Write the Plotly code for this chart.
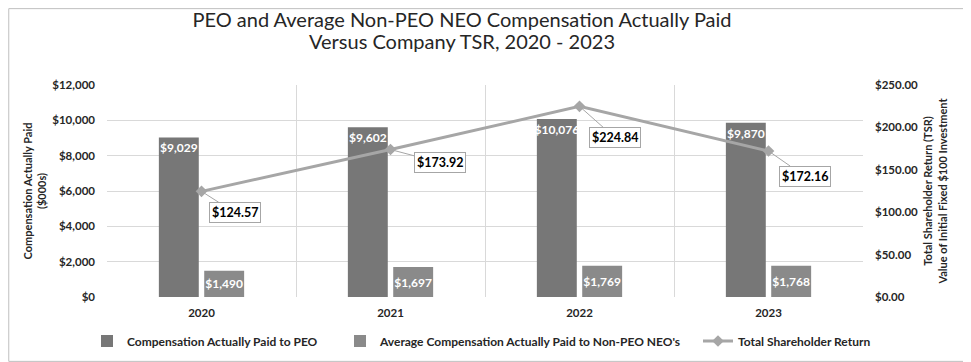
import plotly.graph_objects as go

years = ["2020", "2021", "2022", "2023"]
peo_cap = [9029, 9602, 10076, 9870]
neo_cap = [1490, 1697, 1769, 1768]
tsr = [124.57, 173.92, 224.84, 172.16]
tsr_label_offsets = [(33, 21), (49, 13), (35, 31), (36, 25)]

title_line1 = "PEO and Average Non-PEO NEO Compensation Actually Paid"
title_line2 = "Versus Company TSR, 2020 - 2023"

FONT = "Lato"
TXT = "#262626"
# The page has an 8px body margin, so the figure is sized/offset accordingly.
OFF = 8
FIG_W, FIG_H = 971 - OFF, 362 - OFF
ML, MT, MR, MB = 107 - OFF, 85 - OFF, 108, 65
PLOT_W = FIG_W - ML - MR
PLOT_H = FIG_H - MT - MB


def px_x(page_px):
    return (page_px - OFF - ML) / PLOT_W


def px_y(page_py):
    return 1 - (page_py - OFF - MT) / PLOT_H


fig = go.Figure()
fig.add_trace(go.Bar(
    x=years, y=peo_cap, name="Compensation Actually Paid to PEO",
    marker=dict(color="#777777", line=dict(width=0)),
    text=[f"${v:,}" for v in peo_cap], textposition="inside",
    insidetextanchor="end", textangle=0, constraintext="none",
    textfont=dict(color="white", size=12, family=FONT, weight="bold"),
    yaxis="y", legend="legend",
))
fig.add_trace(go.Bar(
    x=years, y=neo_cap, name="Average Compensation Actually Paid to Non-PEO NEO's",
    marker=dict(color="#8a8a8a", line=dict(width=0)),
    text=[f"${v:,}" for v in neo_cap], textposition="inside",
    insidetextanchor="middle", textangle=0, constraintext="none",
    textfont=dict(color="white", size=12, family=FONT, weight="bold"),
    yaxis="y", legend="legend2",
))
fig.add_trace(go.Scatter(
    x=years, y=tsr, name="Total Shareholder Return", mode="lines+markers",
    line=dict(color="#a6a6a6", width=3),
    marker=dict(symbol="diamond", size=9, color="#a6a6a6"),
    yaxis="y2", legend="legend3",
))

for i, (v, (ax, ay)) in enumerate(zip(tsr, tsr_label_offsets)):
    fig.add_annotation(
        x=i, y=v, xref="x", yref="y2", text=f"<b>${v:.2f}</b>",
        showarrow=True, arrowhead=0, arrowwidth=1, arrowcolor="#a6a6a6",
        ax=ax, ay=ay, bgcolor="white", bordercolor="#a6a6a6", borderwidth=1,
        borderpad=2, font=dict(size=12.5, color="black", family=FONT),
    )

fig.add_annotation(
    text=title_line2, xref="paper", yref="paper",
    x=px_x(462), y=px_y(41), xanchor="center", yanchor="middle",
    showarrow=False, font=dict(size=20, color=TXT, family=FONT),
)

leg_font = dict(size=12, color=TXT, family=FONT, weight="bold")
leg_common = dict(orientation="h", y=px_y(341), yanchor="middle", xanchor="left",
                  font=leg_font, itemwidth=30, bgcolor="rgba(0,0,0,0)")

fig.update_layout(
    width=FIG_W, height=FIG_H,
    margin=dict(l=ML, r=MR, t=MT, b=MB, autoexpand=False),
    paper_bgcolor="white", plot_bgcolor="white",
    font=dict(family=FONT, color=TXT),
    title=dict(
        text=title_line1,
        x=(462 - OFF) / FIG_W, xanchor="center",
        y=1 - (19.5 - OFF) / FIG_H, yanchor="middle",
        font=dict(size=20, color=TXT, family=FONT),
    ),
    barmode="group", bargap=0.52, bargroupgap=0.12,
    xaxis=dict(
        type="category", tickson="boundaries", showgrid=True,
        range=[-0.5, 3.5],
        gridcolor="#d9d9d9", gridwidth=1, ticks="", ticklabelstandoff=7,
        tickfont=dict(size=11.5, color=TXT, family=FONT, weight="bold"),
        showline=False, zeroline=False,
    ),
    yaxis=dict(
        range=[0, 12000], dtick=2000, tickprefix="$", tickformat=",",
        gridcolor="#d9d9d9", gridwidth=1, zeroline=False, showline=False,
        ticklabelstandoff=11,
        tickfont=dict(size=11.5, color=TXT, family=FONT, weight="bold"),
        title=dict(text="Compensation Actually Paid<br>($000s)",
                   font=dict(size=11, color=TXT, family=FONT, weight="bold"),
                   standoff=3),
    ),
    yaxis2=dict(
        range=[0, 250], dtick=50, tickprefix="$", tickformat=".2f",
        overlaying="y", side="right", showgrid=False, zeroline=False,
        ticklabelstandoff=11,
        tickfont=dict(size=11.5, color=TXT, family=FONT, weight="bold"),
        title=dict(text="Total Shareholder Return (TSR)<br>Value of Initial Fixed $100 Investment",
                   font=dict(size=11, color=TXT, family=FONT, weight="bold"),
                   standoff=7),
    ),
    legend=dict(x=px_x(87), **leg_common),
    legend2=dict(x=px_x(340), **leg_common),
    legend3=dict(x=px_x(698), **leg_common),
    showlegend=True,
)
fig.add_shape(type="rect", xref="paper", yref="paper",
              x0=-ML / PLOT_W + 0.001, x1=1 + MR / PLOT_W - 0.002,
              y0=-MB / PLOT_H + 0.003, y1=1 + MT / PLOT_H - 0.003,
              line=dict(color="#bfbfbf", width=1))

fig.write_html("out.html")
